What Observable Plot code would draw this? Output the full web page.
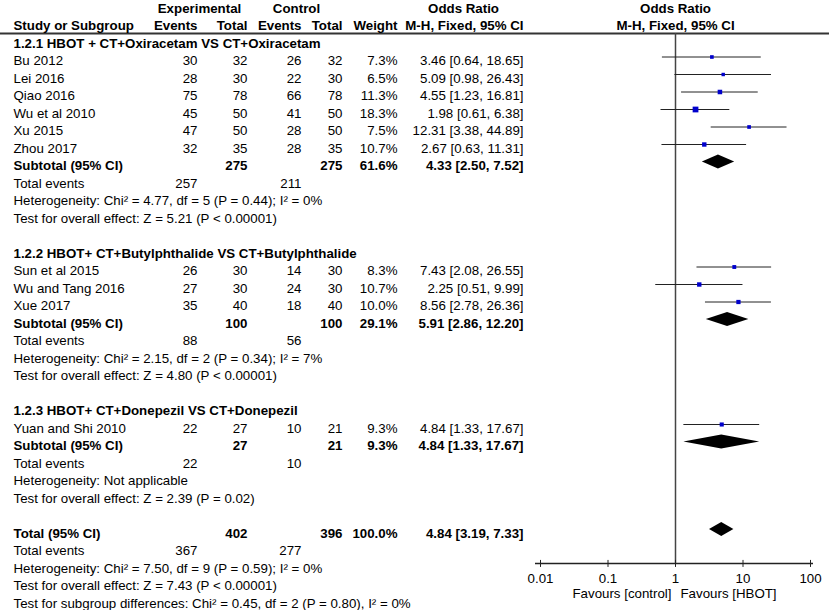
<!DOCTYPE html>
<html>
<head>
<meta charset="utf-8">
<script src="https://cdn.jsdelivr.net/npm/d3@7"></script>
<script src="https://cdn.jsdelivr.net/npm/@observablehq/plot@0.6"></script>
<style>
  html, body { margin: 0; padding: 0; background: #fff; }
  #chart svg { display: block; }
</style>
</head>
<body>
<div id="chart"></div>
<script>
// ---------- data ----------
const groupTitles = [
  "1.2.1 HBOT + CT+Oxiracetam VS CT+Oxiracetam",
  "1.2.2 HBOT+ CT+Butylphthalide VS CT+Butylphthalide",
  "1.2.3 HBOT+ CT+Donepezil VS CT+Donepezil"
];
const studyGroup = [0, 0, 0, 0, 0, 0, 1, 1, 1, 2];
const studyNames = ["Bu 2012", "Lei 2016", "Qiao 2016", "Wu et al 2010", "Xu 2015", "Zhou 2017",
  "Sun et al 2015", "Wu and Tang 2016", "Xue 2017", "Yuan and Shi 2010"];
const expEvents = [30, 28, 75, 45, 47, 32, 26, 27, 35, 22];
const expTotal = [32, 30, 78, 50, 50, 35, 30, 30, 40, 27];
const ctrlEvents = [26, 22, 66, 41, 28, 28, 14, 24, 18, 10];
const ctrlTotal = [32, 30, 78, 50, 50, 35, 30, 30, 40, 21];
const weights = [7.3, 6.5, 11.3, 18.3, 7.5, 10.7, 8.3, 10.7, 10.0, 9.3];
const orEst = [3.46, 5.09, 4.55, 1.98, 12.31, 2.67, 7.43, 2.25, 8.56, 4.84];
const orLo = [0.64, 0.98, 1.23, 0.61, 3.38, 0.63, 2.08, 0.51, 2.78, 1.33];
const orHi = [18.65, 26.43, 16.81, 6.38, 44.89, 11.31, 26.55, 9.99, 26.36, 17.67];

const subExpTotal = [275, 100, 27];
const subCtrlTotal = [275, 100, 21];
const subWeight = [61.6, 29.1, 9.3];
const subEst = [4.33, 5.91, 4.84];
const subLo = [2.50, 2.86, 1.33];
const subHi = [7.52, 12.20, 17.67];
const subExpEvents = [257, 88, 22];
const subCtrlEvents = [211, 56, 10];
const subHet = [
  "Heterogeneity: Chi² = 4.77, df = 5 (P = 0.44); I² = 0%",
  "Heterogeneity: Chi² = 2.15, df = 2 (P = 0.34); I² = 7%",
  "Heterogeneity: Not applicable"
];
const subEffect = [
  "Test for overall effect: Z = 5.21 (P < 0.00001)",
  "Test for overall effect: Z = 4.80 (P < 0.00001)",
  "Test for overall effect: Z = 2.39 (P = 0.02)"
];

const totalExpTotal = 402, totalCtrlTotal = 396, totalWeight = 100.0;
const totalEst = 4.84, totalLo = 3.19, totalHi = 7.33;
const totalExpEvents = 367, totalCtrlEvents = 277;
const totalHet = "Heterogeneity: Chi² = 7.50, df = 9 (P = 0.59); I² = 0%";
const totalEffect = "Test for overall effect: Z = 7.43 (P < 0.00001)";
const subgroupTest = "Test for subgroup differences: Chi² = 0.45, df = 2 (P = 0.80), I² = 0%";

const axisTicks = [0.01, 0.1, 1, 10, 100];
const favourLeft = "Favours [control]";
const favourRight = "Favours [HBOT]";

// ---------- build table rows ----------
const fmt2 = v => v.toFixed(2);
const orText = (e, l, h) => `${fmt2(e)} [${fmt2(l)}, ${fmt2(h)}]`;
const cells = [];   // {row, col, text, bold}
const studyRows = []; // forest rows
const diamonds = [];  // area points
const add = (row, col, text, bold = false) => cells.push({row, col, text: String(text), bold});

// header rows
add(0, "expHead", "Experimental", true);
add(0, "ctrlHead", "Control", true);
add(0, "orHead", "Odds Ratio", true);
add(1, "label", "Study or Subgroup", true);
add(1, "expEv", "Events", true);
add(1, "expTot", "Total", true);
add(1, "ctrlEv", "Events", true);
add(1, "ctrlTot", "Total", true);
add(1, "weight", "Weight", true);
add(1, "or", "M-H, Fixed, 95% CI", true);

const diamondHalf = 0.4; // half height in row units
function addDiamond(id, row, e, l, h) {
  diamonds.push({id, y: row - diamondHalf, x1: e, x2: e});
  diamonds.push({id, y: row, x1: l, x2: h});
  diamonds.push({id, y: row + diamondHalf, x1: e, x2: e});
}

let r = 2;
groupTitles.forEach((title, g) => {
  add(r++, "label", title, true);
  studyNames.forEach((name, i) => {
    if (studyGroup[i] !== g) return;
    add(r, "label", name);
    add(r, "expEv", expEvents[i]);
    add(r, "expTot", expTotal[i]);
    add(r, "ctrlEv", ctrlEvents[i]);
    add(r, "ctrlTot", ctrlTotal[i]);
    add(r, "weight", weights[i].toFixed(1) + "%");
    add(r, "or", orText(orEst[i], orLo[i], orHi[i]));
    studyRows.push({row: r, est: orEst[i], lo: orLo[i], hi: orHi[i], w: weights[i]});
    r++;
  });
  add(r, "label", "Subtotal (95% CI)", true);
  add(r, "expTot", subExpTotal[g], true);
  add(r, "ctrlTot", subCtrlTotal[g], true);
  add(r, "weight", subWeight[g].toFixed(1) + "%", true);
  add(r, "or", orText(subEst[g], subLo[g], subHi[g]), true);
  addDiamond("g" + g, r, subEst[g], subLo[g], subHi[g]);
  r++;
  add(r, "label", "Total events");
  add(r, "expEv", subExpEvents[g]);
  add(r, "ctrlEv", subCtrlEvents[g]);
  r++;
  add(r++, "label", subHet[g]);
  add(r++, "label", subEffect[g]);
  r++; // blank
});
add(r, "label", "Total (95% CI)", true);
add(r, "expTot", totalExpTotal, true);
add(r, "ctrlTot", totalCtrlTotal, true);
add(r, "weight", totalWeight.toFixed(1) + "%", true);
add(r, "or", orText(totalEst, totalLo, totalHi), true);
addDiamond("total", r, totalEst, totalLo, totalHi);
r++;
add(r, "label", "Total events");
add(r, "expEv", totalExpEvents);
add(r, "ctrlEv", totalCtrlEvents);
r++;
add(r++, "label", totalHet);
add(r++, "label", totalEffect);
add(r++, "label", subgroupTest);

// ---------- column layout (pixel offsets from left edge) ----------
const columns = {
  label: {dx: 13, anchor: "start"},
  expHead: {dx: 199, anchor: "middle"},
  ctrlHead: {dx: 296, anchor: "middle"},
  orHead: {dx: 463, anchor: "middle"},
  expEv: {dx: 197, anchor: "end"},
  expTot: {dx: 247, anchor: "end"},
  ctrlEv: {dx: 301, anchor: "end"},
  ctrlTot: {dx: 342, anchor: "end"},
  weight: {dx: 397, anchor: "end"},
  or: {dx: 523, anchor: "end"}
};

const textMarks = [];
for (const [col, spec] of Object.entries(columns)) {
  for (const bold of [false, true]) {
    const data = cells.filter(c => c.col === col && c.bold === bold);
    if (!data.length) continue;
    textMarks.push(Plot.text(data, {
      y: "row", text: "text", frameAnchor: "left", dx: spec.dx,
      textAnchor: spec.anchor, fontWeight: bold ? "bold" : "normal", fill: "#000"
    }));
  }
}

const headerRuleRow = 1.43;
const axisRow = 31.71;
const rightHeaders = [
  {x: 1, row: 0, text: "Odds Ratio"},
  {x: 1, row: 1, text: "M-H, Fixed, 95% CI"}
];

const chart = Plot.plot({
  width: 829,
  height: 610,
  marginTop: 0, marginLeft: 0, marginRight: 0, marginBottom: 49,
  style: {fontFamily: "Arial, 'Liberation Sans', sans-serif", fontSize: "13.3px", background: "#fff", color: "#000"},
  x: {type: "log", domain: [0.01, 100], range: [540, 810]},
  y: {type: "linear", domain: [0, 34], range: [8, 603], axis: null},
  r: {type: "sqrt", domain: [0, 18.3], range: [0, 3.25]},
  marks: [
    Plot.ruleY([headerRuleRow], {stroke: "#333", strokeWidth: 2}),
    Plot.ruleX([1], {y1: headerRuleRow, y2: axisRow, stroke: "#444", strokeWidth: 1.5}),
    Plot.ruleY([axisRow], {x1: 0.01, x2: 100, insetLeft: -5, insetRight: -3, stroke: "#222", strokeWidth: 1.5}),
    Plot.ruleX(axisTicks, {x: d => d, y1: axisRow, y2: axisRow, insetTop: -3, insetBottom: -4, stroke: "#222", strokeWidth: 1}),
    Plot.axisX({ticks: axisTicks, tickFormat: d => String(d), tickSize: 0, tickPadding: 12,
      label: null, fontSize: 13.3}),
    Plot.ruleY(studyRows, {y: "row", x1: "lo", x2: "hi", dy: -4, stroke: "#222", strokeWidth: 1}),
    Plot.dot(studyRows, {x: "est", y: "row", r: "w", symbol: "square", fill: "#0000cc", dy: -4}),
    Plot.areaX(diamonds, {y: "y", x1: "x1", x2: "x2", z: "id", fill: "#000", dy: -4}),
    ...textMarks,
    Plot.text(rightHeaders, {x: "x", y: "row", text: "text", fontWeight: "bold", textAnchor: "middle"}),
    Plot.text([favourLeft], {x: [1], text: d => d, frameAnchor: "bottom", lineAnchor: "middle", dy: 32, dx: -4, textAnchor: "end"}),
    Plot.text([favourRight], {x: [1], text: d => d, frameAnchor: "bottom", lineAnchor: "middle", dy: 32, dx: 5, textAnchor: "start"})
  ]
});
document.getElementById("chart").appendChild(chart);
</script>
</body>
</html>
